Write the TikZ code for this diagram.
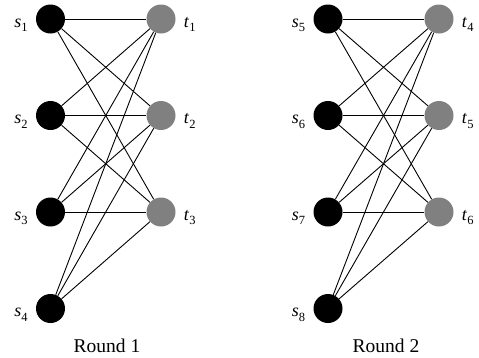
\documentclass[tikz,border=0pt]{standalone}
\usepackage{fontspec}
\setmainfont{Liberation Serif}
\usetikzlibrary{calc}
\definecolor{tgray}{RGB}{128,128,128}
\newcommand{\lbl}[2]{\fontsize{18}{18}\selectfont\textit{#1}\raisebox{-4.5pt}{\fontsize{12.5}{12.5}\selectfont #2}}
\tikzset{
  snode/.style={circle,fill=black,minimum size=29pt,inner sep=0pt},
  tnode/.style={circle,fill=tgray,minimum size=29pt,inner sep=0pt},
  lab/.style={inner sep=0pt},
  edgeline/.style={line width=0.9pt,black},
  roundtext/.style={anchor=base,inner sep=0pt,font=\fontsize{19.5}{20}\selectfont}
}
\begin{document}
\begin{tikzpicture}[x=1pt,y=-1pt]
\useasboundingbox (0,0) rectangle (479,357);
% Round 1
\foreach \i/\y in {1/19,2/115.5,3/212,4/308.5}{
  \node[snode] (s\i) at (50.5,\y) {};
  \node[lab,anchor=base east] (ls\i) at ($(s\i.west)+(-8,8)$) {\lbl{s}{\i}};
}
\foreach \j/\y in {1/19,2/115.5,3/212}{
  \node[tnode] (t\j) at (161,\y) {};
  \node[lab,anchor=base west] (lt\j) at ($(t\j.east)+(8,8)$) {\lbl{t}{\j}};
}
\foreach \i in {1,...,4}{
  \foreach \j in {1,2,3}{
    \draw[edgeline] (s\i) -- (t\j);
  }
}
\node[roundtext] (r1) at (107,352) {Round 1};
% Round 2
\foreach \i/\y in {5/19,6/115.5,7/212,8/308.5}{
  \node[snode] (s\i) at (328,\y) {};
  \node[lab,anchor=base east] (ls\i) at ($(s\i.west)+(-8,8)$) {\lbl{s}{\i}};
}
\foreach \j/\y in {4/19,5/115.5,6/212}{
  \node[tnode] (t\j) at (439,\y) {};
  \node[lab,anchor=base west] (lt\j) at ($(t\j.east)+(8,8)$) {\lbl{t}{\j}};
}
\foreach \i in {5,...,8}{
  \foreach \j in {4,5,6}{
    \draw[edgeline] (s\i) -- (t\j);
  }
}
\node[roundtext] (r2) at (386,352) {Round 2};
\end{tikzpicture}
\end{document}
